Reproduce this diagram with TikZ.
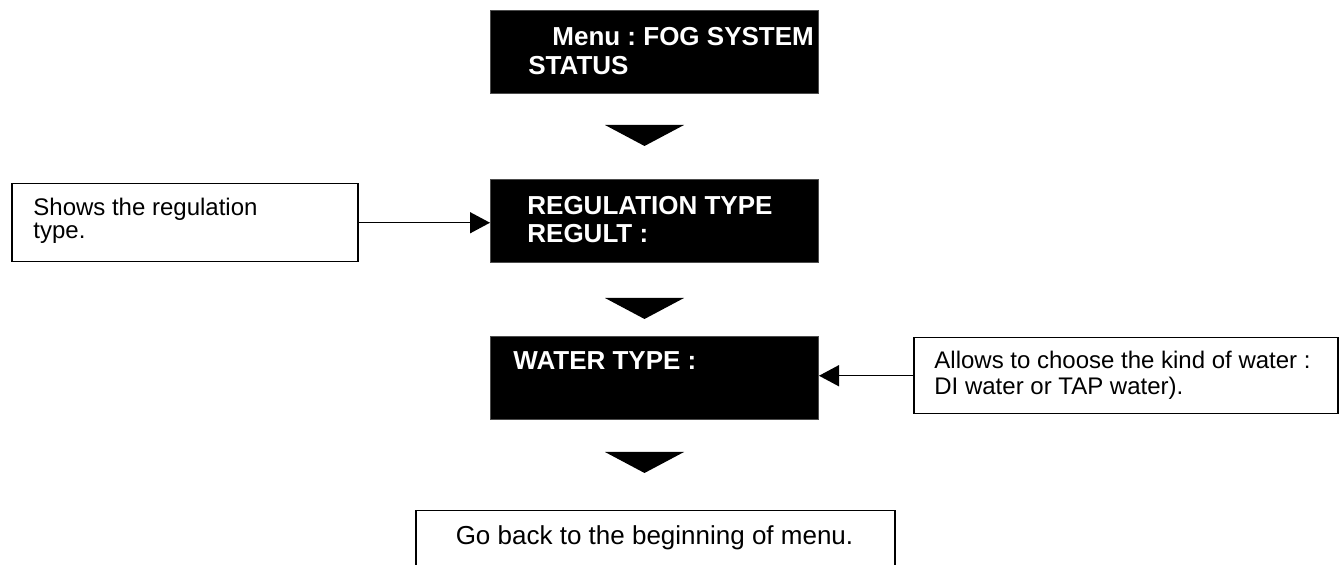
\documentclass[tikz,border=0pt]{standalone}
\usepackage{fontspec}
\setmainfont{Liberation Sans}
\frenchspacing
\usetikzlibrary{
  arrows.meta,
  positioning,
}
\tikzstyle{screen} = [
  fill=black,
  draw=black!70,
  line width=0.5pt,
  inner sep=0,
  minimum width=164pt,
  minimum height=41.5pt,
  anchor=north west,
]
\tikzstyle{screentext} = [
  text=white,
  font=\fontsize{13}{15}\selectfont\bfseries,
  inner sep=0,
  anchor=base west,
]
\tikzstyle{note} = [
  draw,
  line width=0.75pt,
  inner sep=0,
  anchor=north west,
]
\tikzstyle{notetext} = [
  font=\fontsize{12}{14}\selectfont,
  inner sep=0,
  anchor=base west,
]
\tikzstyle{arrow} = [
  -{Triangle[length=10pt,width=10.5pt]},
  line width=0.75pt,
]

\begin{document}
\begin{tikzpicture}[x=0.5pt, y=-0.5pt]

        \useasboundingbox (0,0) rectangle (1343,565);
        \clip (0,0) rectangle (1343,565);

        % screens
        \node [screen] (status) at (490,10) {};
        \node [screentext] (status1) at (552,46) {Menu : FOG SYSTEM};
        \node [screentext] (status2) at (528,75) {STATUS};

        \node [screen] (regtype) at (490,179) {};
        \node [screentext] (regtype1) at (527,215) {REGULATION TYPE};
        \node [screentext] (regtype2) at (527,243) {REGULT :};

        \node [screen] (watertype) at (490,336) {};
        \node [screentext] (watertype1) at (513,370) {WATER TYPE :};

        % down marks
        \foreach \y in {125,298,452} {
          \fill (605,\y) -- (684,\y) -- (644.5,\y+21) -- cycle;
        }

        % notes
        \node [note, minimum width=173pt, minimum height=39pt] (regnote) at (11,183) {};
        \node [notetext] (regnote1) at (33,216) {Shows the regulation};
        \node [notetext] (regnote2) at (33,239) {type.};

        \node [note, minimum width=212pt, minimum height=38pt] (waternote) at (913,337) {};
        \node [notetext] (waternote1) at (934,369) {Allows to choose the kind of water :};
        \node [notetext] (waternote2) at (934,395) {DI water or TAP water).};

        \node [note, minimum width=239.5pt, minimum height=50pt] (backnote) at (415,510) {};
        \node [notetext, anchor=base, font=\fontsize{13}{15}\selectfont] (backnote1) at (654.5,545) {Go back to the beginning of menu.};

        \draw [arrow] (regnote.east) -- (regnote.east -| regtype.west);
        \draw [arrow] (waternote.west) -- (waternote.west -| watertype.east);

\end{tikzpicture}
\end{document}
